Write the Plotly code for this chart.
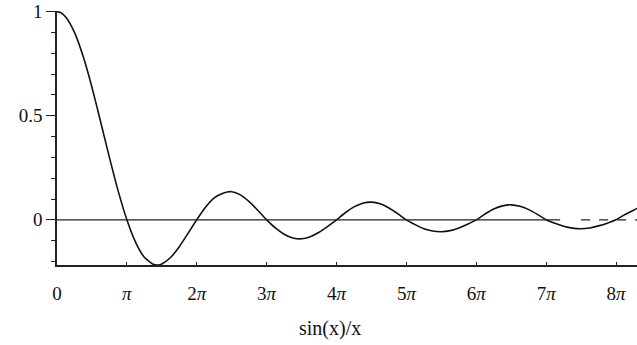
import plotly.graph_objects as go

# x positions in units of pi
x_pi = [0, 0.05, 0.125, 0.25, 0.375, 0.5, 0.625, 0.75, 0.875, 1.0,
        1.125, 1.25, 1.375, 1.45, 1.5, 1.625, 1.75, 1.875, 2.0,
        2.125, 2.25, 2.375, 2.5, 2.625, 2.75, 2.875, 3.0,
        3.125, 3.25, 3.375, 3.5, 3.625, 3.75, 3.875, 4.0,
        4.125, 4.25, 4.375, 4.5, 4.625, 4.75, 4.875, 5.0,
        5.125, 5.25, 5.375, 5.5, 5.625, 5.75, 5.875, 6.0,
        6.125, 6.25, 6.375, 6.5, 6.625, 6.75, 6.875, 7.0,
        7.125, 7.25, 7.375, 7.5, 7.625, 7.75, 7.875, 8.0,
        8.125, 8.25, 8.3]
y_val = [1.0, 0.996, 0.974, 0.900, 0.784, 0.637, 0.470, 0.300, 0.139, 0.0,
         -0.108, -0.180, -0.213, -0.217, -0.212, -0.181, -0.129, -0.065, 0.0,
         0.060, 0.105, 0.128, 0.135, 0.120, 0.087, 0.045, 0.0,
         -0.039, -0.069, -0.087, -0.091, -0.081, -0.060, -0.031, 0.0,
         0.034, 0.062, 0.080, 0.085, 0.077, 0.057, 0.030, 0.0,
         -0.023, -0.043, -0.054, -0.057, -0.052, -0.039, -0.021, 0.0,
         0.028, 0.052, 0.067, 0.072, 0.065, 0.049, 0.026, 0.0,
         -0.017, -0.031, -0.040, -0.043, -0.039, -0.029, -0.016, 0.0,
         0.025, 0.046, 0.055]

x_tickvals = [0, 1, 2, 3, 4, 5, 6, 7, 8]
x_ticktext = ["0", "<i>π</i>", "2<i>π</i>", "3<i>π</i>", "4<i>π</i>",
              "5<i>π</i>", "6<i>π</i>", "7<i>π</i>", "8<i>π</i>"]
y_tickvals = [0, 0.5, 1]
y_ticktext = ["0", "0.5", "1"]
title_text = "sin(x)/x"

FONT = "Liberation Serif"

fig = go.Figure()
fig.add_trace(go.Scatter(x=x_pi, y=y_val, mode="lines",
                         line=dict(color="#111111", width=1.6, shape="spline", smoothing=0.6),
                         showlegend=False, hoverinfo="skip", cliponaxis=False))

# zero line: solid part then dashed part
fig.add_shape(type="line", xref="x", yref="y", x0=0, x1=7.2, y0=0, y1=0,
              line=dict(color="#222222", width=1.3))
fig.add_shape(type="line", xref="x", yref="y", x0=7.5, x1=8.3, y0=0, y1=0,
              line=dict(color="#222222", width=1.3, dash="dash"))

fig.update_layout(
    width=637, height=345,
    margin=dict(l=57, r=0, t=11, b=80),
    paper_bgcolor="white", plot_bgcolor="white",
    font=dict(family=FONT, size=18, color="#111111"),
    showlegend=False,
    annotations=[dict(text=title_text, xref="paper", yref="paper",
                      x=0.47, y=-0.25, xanchor="center", yanchor="middle",
                      showarrow=False, font=dict(family=FONT, size=20, color="#111111"))],
)
fig.update_xaxes(range=[0, 8.3], showgrid=False, zeroline=False, automargin=False,
                 showline=True, linecolor="#222222", linewidth=1.5,
                 tickvals=x_tickvals, ticktext=x_ticktext,
                 ticks="inside", ticklen=3, tickcolor="#222222",
                 ticklabelstandoff=10, ticklabeloverflow="allow",
                 tickfont=dict(family=FONT, size=19, color="#111111"))
fig.update_yaxes(range=[-0.217, 1.003], showgrid=False, zeroline=False, automargin=False,
                 showline=True, linecolor="#222222", linewidth=1.5,
                 tickvals=y_tickvals, ticktext=y_ticktext,
                 ticks="outside", ticklen=9, tickcolor="#222222", tickwidth=1.3,
                 ticklabeloverflow="allow",
                 minor=dict(dtick=0.1, tick0=0, ticks="outside", ticklen=4,
                            tickcolor="#222222", tickwidth=1.2),
                 tickfont=dict(family=FONT, size=19, color="#111111"))

fig.write_html("out.html", config={"displayModeBar": False},
               post_script="document.body.style.margin='0';document.body.style.overflow='hidden';")
